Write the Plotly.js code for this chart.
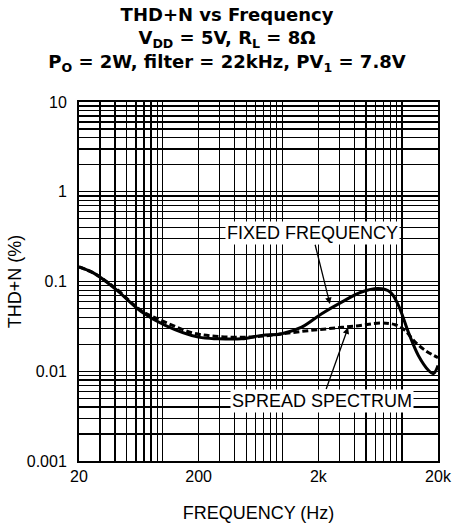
<!DOCTYPE html>
<html>
<head>
<meta charset="utf-8">
<script src="https://cdn.plot.ly/plotly-3.0.1.min.js"></script>
<style>html,body{margin:0;padding:0;background:#fff;}#chart{width:454px;height:529px;}</style>
</head>
<body>
<div id="chart"></div>
<script>
// Fixed frequency series
const freqFixed = [20, 27, 40, 67, 105, 199, 292, 458, 674, 988, 1452, 2134, 3134, 4600, 6340, 7960, 9340, 11300, 13700, 16700, 18300, 20000];
const thdFixed  = [0.145, 0.1225, 0.0833, 0.0457, 0.0325, 0.024, 0.023, 0.023, 0.0251, 0.0262, 0.031, 0.0438, 0.059, 0.0763, 0.0833, 0.0763, 0.0543, 0.0273, 0.015, 0.0102, 0.0094, 0.0116];
// Spread spectrum series
const freqSpread = [20, 27, 40, 67, 105, 175, 274, 521, 872, 1452, 2420, 4060, 6770, 8760, 10600, 12900, 15600, 20000];
const thdSpread  = [0.145, 0.1225, 0.085, 0.047, 0.0353, 0.0269, 0.0245, 0.024, 0.0255, 0.0278, 0.0298, 0.0319, 0.0344, 0.033, 0.0285, 0.0211, 0.0171, 0.0142];

// Axis ticks
const xTickVals = [20, 200, 2000, 20000];
const xTickText = ['20', '200', '2k', '20k'];
const xMinorVals = [30,40,50,60,70,80,90,100,300,400,500,600,700,800,900,1000,3000,4000,5000,6000,7000,8000,9000,10000];
const yTickVals = [0.001, 0.01, 0.1, 1, 10];
const yTickText = ['0.001', '0.01', '0.1', '1', '10'];
const yMinorMult = [2, 3, 4, 5, 6, 7, 8, 9];

// Annotation labels (text position = arrow tail, arrow head on the curve)
const labelFixed = 'FIXED FREQUENCY';
const labelSpread = 'SPREAD SPECTRUM';
const fixedLabelAt = {f: 1780, v: 0.345};
const fixedArrowTo = {f: 2500, v: 0.056};
const spreadLabelAt = {f: 2150, v: 0.00472};
const spreadArrowTo = {f: 3550, v: 0.0308};

const yMinorVals = [];
[0.001, 0.01, 0.1, 1].forEach(function(d){
  yMinorMult.forEach(function(m){ yMinorVals.push(m * d); });
});

const font = 'Liberation Sans, Arial, Helvetica, sans-serif';
const titleFont = 'DejaVu Sans, Liberation Sans, Arial, sans-serif';
const L = Math.log10;
const gridStyle = {showgrid: true, gridcolor: '#000', gridwidth: 1.3, ticks: ''};

const traces = [
  {x: freqFixed, y: thdFixed, mode: 'lines', type: 'scatter',
   line: {color: '#000', width: 3, shape: 'spline', smoothing: 1}},
  {x: freqSpread, y: thdSpread, mode: 'lines', type: 'scatter',
   line: {color: '#000', width: 3, dash: '6px,3px', shape: 'spline', smoothing: 1}}
];

const layout = {
  width: 454, height: 529,
  margin: {l: 79, r: 16, t: 102, b: 68},
  paper_bgcolor: '#fff', plot_bgcolor: '#fff',
  showlegend: false,
  font: {family: font, size: 16, color: '#000'},
  title: {
    text: '<b>THD+N vs Frequency<br>V<sub>DD</sub> = 5V, R<sub>L</sub> = 8Ω<br>P<sub>O</sub> = 2W, filter = 22kHz, PV<sub>1</sub> = 7.8V</b>',
    font: {family: titleFont, size: 18, color: '#000'},
    x: 0.5, xref: 'container', xanchor: 'center',
    y: 0.9603, yref: 'container', yanchor: 'top'
  },
  xaxis: Object.assign({
    type: 'log', range: [L(20), L(20000)],
    tickmode: 'array', tickvals: xTickVals, ticktext: xTickText,
    minor: Object.assign({tickmode: 'array', tickvals: xMinorVals}, gridStyle),
    showline: true, linecolor: '#000', linewidth: 2, mirror: true,
    zeroline: false,
    tickfont: {family: font, size: 16, color: '#000'},
    title: {text: 'FREQUENCY (Hz)', font: {family: font, size: 18, color: '#000'}, standoff: 22}
  }, gridStyle),
  yaxis: Object.assign({
    type: 'log', range: [L(0.001), L(10)],
    tickmode: 'array', tickvals: yTickVals, ticktext: yTickText,
    minor: Object.assign({tickmode: 'array', tickvals: yMinorVals}, gridStyle),
    showline: true, linecolor: '#000', linewidth: 2, mirror: true,
    zeroline: false, ticklabelstandoff: 7,
    tickfont: {family: font, size: 16, color: '#000'},
    title: {text: 'THD+N (%)', font: {family: font, size: 18, color: '#000'}, standoff: 0}
  }, gridStyle),
  annotations: [
    {x: L(fixedArrowTo.f), y: L(fixedArrowTo.v), xref: 'x', yref: 'y',
     ax: L(fixedLabelAt.f), ay: L(fixedLabelAt.v), axref: 'x', ayref: 'y',
     text: labelFixed, showarrow: true, arrowhead: 2, arrowsize: 1, arrowwidth: 1.3, arrowcolor: '#000',
     bgcolor: '#fff', borderpad: 1, font: {family: font, size: 18, color: '#000'}},
    {x: L(spreadArrowTo.f), y: L(spreadArrowTo.v), xref: 'x', yref: 'y',
     ax: L(spreadLabelAt.f), ay: L(spreadLabelAt.v), axref: 'x', ayref: 'y',
     text: labelSpread, showarrow: true, arrowhead: 2, arrowsize: 1, arrowwidth: 1.3, arrowcolor: '#000',
     bgcolor: '#fff', borderpad: 1, font: {family: font, size: 18, color: '#000'}}
  ]
};

Plotly.newPlot('chart', traces, layout, {staticPlot: true, displayModeBar: false});
</script>
</body>
</html>
